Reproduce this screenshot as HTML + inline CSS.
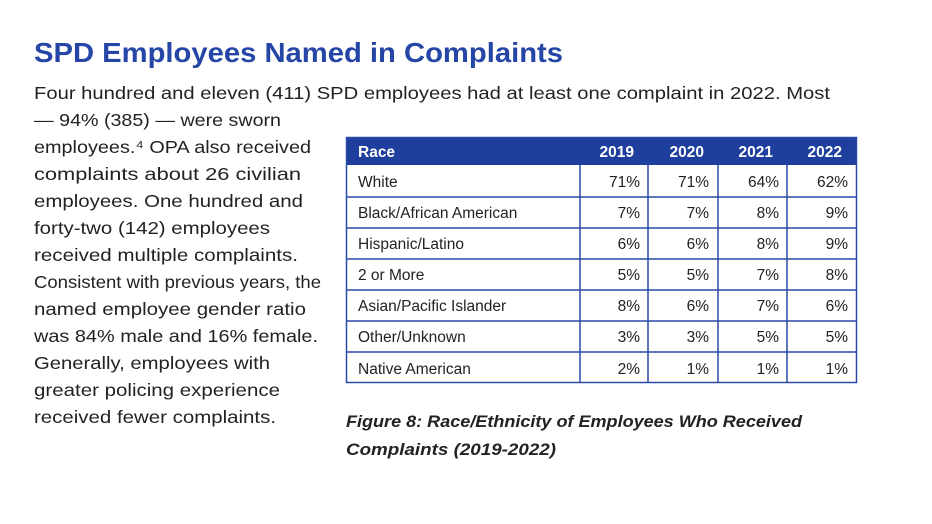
<!DOCTYPE html>
<html><head><meta charset="utf-8"><style>
html,body{margin:0;padding:0;background:#fff;}
svg{display:block;font-family:"Liberation Sans",sans-serif;}
</style></head><body>
<svg width="932" height="524" viewBox="0 0 932 524" xmlns="http://www.w3.org/2000/svg">
<text x="34" y="62" font-size="28" font-weight="bold" fill="#2546a6" textLength="529" lengthAdjust="spacingAndGlyphs">SPD Employees Named in Complaints</text>
<g font-size="17.5" fill="#222">
<text x="34" y="99" textLength="796" lengthAdjust="spacingAndGlyphs">Four hundred and eleven (411) SPD employees had at least one complaint in 2022. Most</text>
<text x="34" y="126" textLength="247" lengthAdjust="spacingAndGlyphs">— 94% (385) — were sworn</text>
<text x="34" y="153" textLength="277" lengthAdjust="spacingAndGlyphs">employees.⁴ OPA also received</text>
<text x="34" y="180" textLength="267" lengthAdjust="spacingAndGlyphs">complaints about 26 civilian</text>
<text x="34" y="207" textLength="269" lengthAdjust="spacingAndGlyphs">employees. One hundred and</text>
<text x="34" y="234" textLength="236" lengthAdjust="spacingAndGlyphs">forty-two (142) employees</text>
<text x="34" y="261" textLength="264" lengthAdjust="spacingAndGlyphs">received multiple complaints.</text>
<text x="34" y="288" textLength="287" lengthAdjust="spacingAndGlyphs">Consistent with previous years, the</text>
<text x="34" y="315" textLength="272" lengthAdjust="spacingAndGlyphs">named employee gender ratio</text>
<text x="34" y="342" textLength="284" lengthAdjust="spacingAndGlyphs">was 84% male and 16% female.</text>
<text x="34" y="369" textLength="236" lengthAdjust="spacingAndGlyphs">Generally, employees with</text>
<text x="34" y="396" textLength="246" lengthAdjust="spacingAndGlyphs">greater policing experience</text>
<text x="34" y="423" textLength="242" lengthAdjust="spacingAndGlyphs">received fewer complaints.</text>
</g>
<!-- table -->
<rect x="346" y="137" width="511" height="28" fill="#1f3f9e"/>
<g fill="none" stroke="#2b4aa8" stroke-width="1.5">
<rect x="346.5" y="137.5" width="510" height="245"/>
<line x1="346" y1="197" x2="857" y2="197"/>
<line x1="346" y1="228" x2="857" y2="228"/>
<line x1="346" y1="259" x2="857" y2="259"/>
<line x1="346" y1="290" x2="857" y2="290"/>
<line x1="346" y1="321" x2="857" y2="321"/>
<line x1="346" y1="352" x2="857" y2="352"/>
<line x1="580" y1="165" x2="580" y2="383"/>
<line x1="648" y1="165" x2="648" y2="383"/>
<line x1="718" y1="165" x2="718" y2="383"/>
<line x1="787" y1="165" x2="787" y2="383"/>
</g>
<g font-size="15.5" font-weight="bold" fill="#fff">
<text x="358" y="157">Race</text>
<text x="634" y="157" text-anchor="end">2019</text>
<text x="704" y="157" text-anchor="end">2020</text>
<text x="773" y="157" text-anchor="end">2021</text>
<text x="842" y="157" text-anchor="end">2022</text>
</g>
<g font-size="15.5" fill="#222">
<text x="358" y="187">White</text>
<text x="358" y="218">Black/African American</text>
<text x="358" y="249">Hispanic/Latino</text>
<text x="358" y="280">2 or More</text>
<text x="358" y="311">Asian/Pacific Islander</text>
<text x="358" y="342">Other/Unknown</text>
<text x="358" y="374">Native American</text>
</g>
<g font-size="15.5" fill="#222" text-anchor="end">
<text x="640" y="187">71%</text><text x="709" y="187">71%</text><text x="779" y="187">64%</text><text x="848" y="187">62%</text>
<text x="640" y="218">7%</text><text x="709" y="218">7%</text><text x="779" y="218">8%</text><text x="848" y="218">9%</text>
<text x="640" y="249">6%</text><text x="709" y="249">6%</text><text x="779" y="249">8%</text><text x="848" y="249">9%</text>
<text x="640" y="280">5%</text><text x="709" y="280">5%</text><text x="779" y="280">7%</text><text x="848" y="280">8%</text>
<text x="640" y="311">8%</text><text x="709" y="311">6%</text><text x="779" y="311">7%</text><text x="848" y="311">6%</text>
<text x="640" y="342">3%</text><text x="709" y="342">3%</text><text x="779" y="342">5%</text><text x="848" y="342">5%</text>
<text x="640" y="374">2%</text><text x="709" y="374">1%</text><text x="779" y="374">1%</text><text x="848" y="374">1%</text>
</g>
<g font-size="17" font-weight="bold" font-style="italic" fill="#222">
<text x="346" y="427" textLength="456" lengthAdjust="spacingAndGlyphs">Figure 8: Race/Ethnicity of Employees Who Received</text>
<text x="346" y="455" textLength="210" lengthAdjust="spacingAndGlyphs">Complaints (2019-2022)</text>
</g>
</svg>
</body></html>
